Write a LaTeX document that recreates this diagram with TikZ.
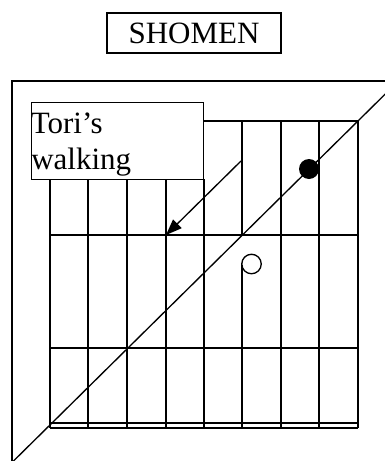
\documentclass[tikz,border=0pt]{standalone}
\usepackage{fontspec}
\setmainfont{Liberation Serif}
\usetikzlibrary{calc, positioning}
\usetikzlibrary{arrows.meta}

\tikzset{matline/.style={line width=1pt,black}}

\begin{document}
\begin{tikzpicture}[x=0.75pt,y=-0.75pt,font=\fontsize{23.25}{27}\selectfont]
\useasboundingbox (0,0) rectangle (385,461);
\clip (0,0) rectangle (385,461);

\coordinate (frameSW) at (12,475);
\coordinate (frameNW) at (12,81);
\coordinate (frameNE) at (400,81);
\coordinate (diagLow) at (-0.7,475);
\coordinate (diagHigh) at (400,79.5);

% Title
\node[draw,matline,minimum width=130.5pt,minimum height=30pt,inner sep=0pt] (shomen) at (194,33) {SHOMEN};

% Outer frame of the dojo
\draw[matline] (frameSW) -- (frameNW) -- (frameNE);

% Tatami grid
\foreach \x in {50,88,127,166,204}
  \draw[matline] (\x,179) -- (\x,428);
\draw[matline] (242,121) -- (242,235);
\draw[matline] (242,265) -- (242,428);
\foreach \x in {281,319,358}
  \draw[matline] (\x,121) -- (\x,428);
\draw[matline] (204,121) -- (358,121);
\foreach \y in {235,348,423,428}
  \draw[matline] (50,\y) -- (358,\y);

% Label box
\node[draw,matline,anchor=north west,minimum width=129pt,minimum height=57.75pt,inner sep=0pt] (toribox) at (31,102) {};
\node[anchor=base west,inner sep=0pt] (toriword) at (30.5,133) {Tori’s};
\node[anchor=base west,inner sep=0pt] (walkword) at (31,169) {walking};

% Diagonal line and walking direction
\draw[matline] (diagLow) -- (diagHigh);
\coordinate (walkstart) at (241,161);
\coordinate (walkend) at (166,235);
\draw[matline,-{Triangle[length=12pt,width=9pt]}] (walkstart) -- (walkend);

% Positions
\fill[black] (309,169) circle (7.5pt);
\draw[matline] (251.5,264) circle (7.3pt);
\end{tikzpicture}
\end{document}
